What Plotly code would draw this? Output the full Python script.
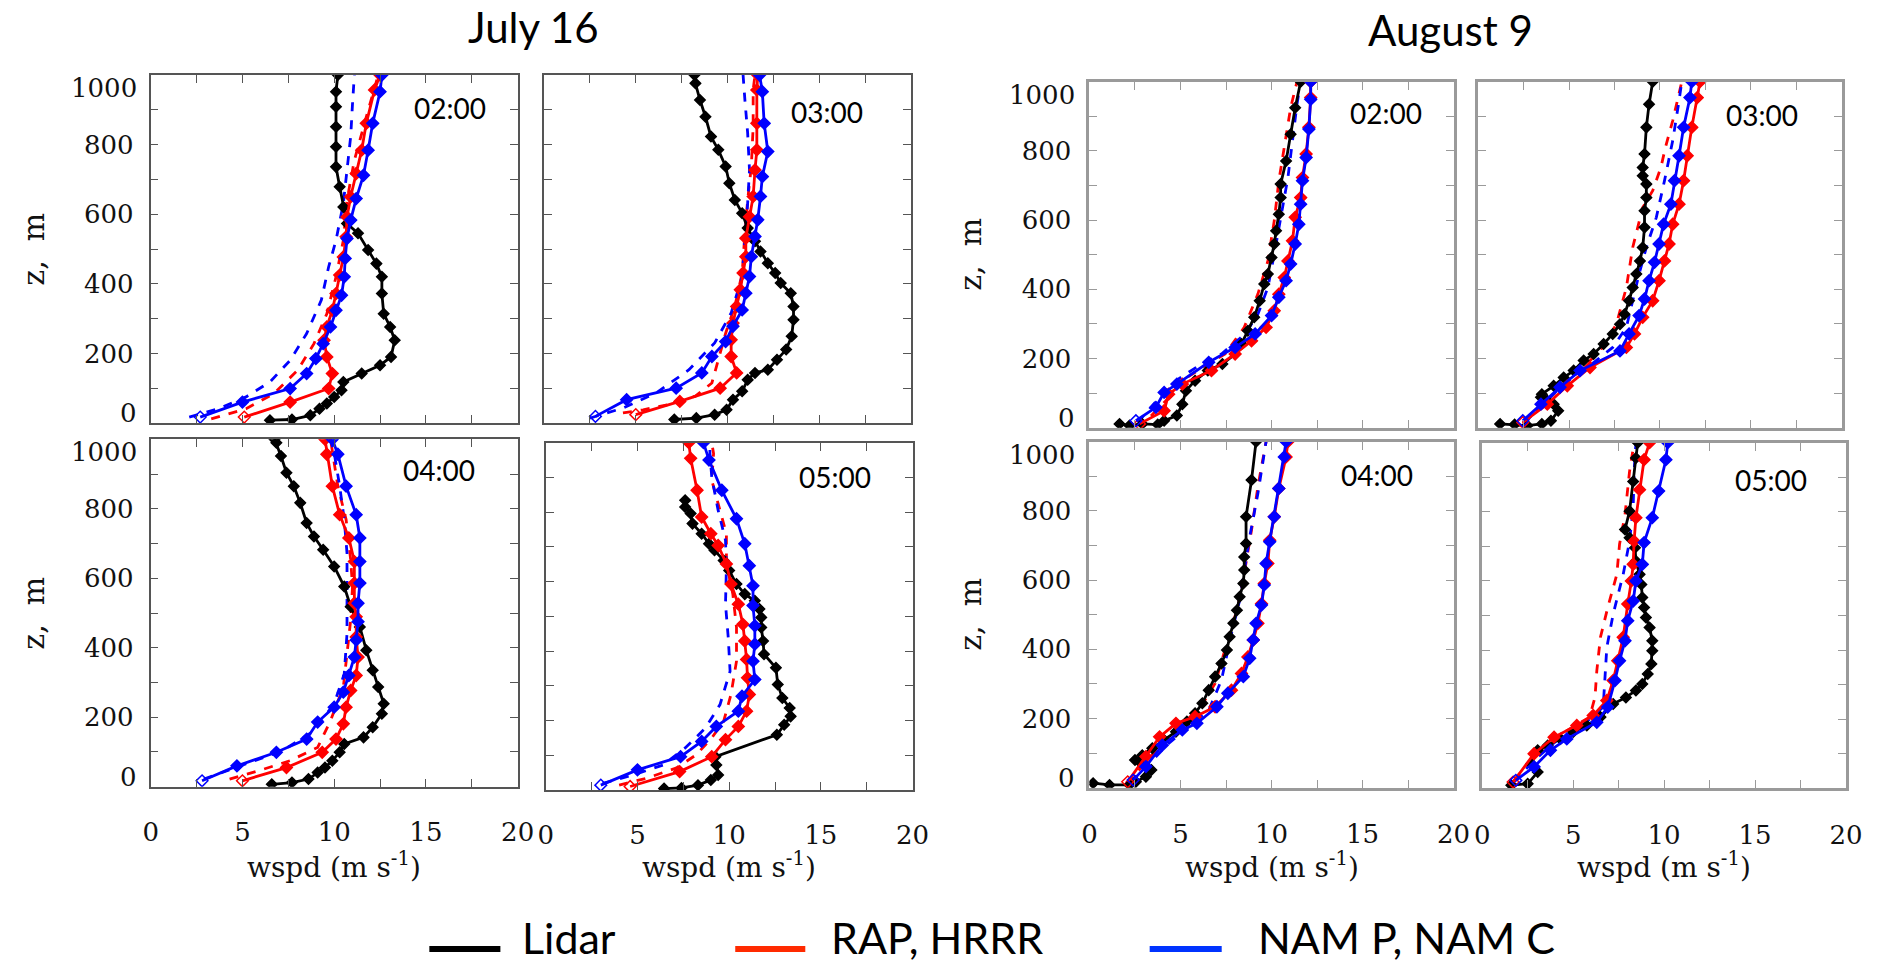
import plotly.graph_objects as go

# ---------------- data: (wind speed m/s, height m) ----------------
# July 16, 02:00
jul_0200_lidar = [(6.5,8),(7.7,10),(8.7,22),(9.2,41),(9.6,56),(10.0,75),(10.4,94),(10.5,118),(11.5,142),(12.5,166),(13.1,190),(13.3,238),(13.05,276),(12.7,314),(12.6,372),(12.6,420),(12.3,458),(11.85,497),(11.3,545),(10.7,573),(10.5,621),(10.3,679),(10.1,736),(10.1,794),(10.1,851),(10.1,909),(10.1,952),(10.2,1000)]
jul_0200_rap = [(5.1,17),(7.6,60),(9.7,99),(9.9,142),(9.6,190),(9.45,238),(9.6,276),(9.9,324),(10.1,372),(10.3,425),(10.5,477),(10.65,535),(10.7,592),(10.9,650),(11.2,717),(11.5,784),(11.75,861),(12.2,957),(12.5,1000)]
jul_0200_hrrr = [(3.3,12),(5.2,41),(6.7,84),(8.0,151),(8.9,228),(9.6,314),(10.1,420),(10.5,525),(10.7,640),(11.1,755),(11.7,870),(12.2,966),(12.4,1000)]
jul_0200_namp = [(2.7,17),(5.0,60),(7.6,99),(8.5,142),(9.0,185),(9.4,228),(9.8,276),(10.1,324),(10.4,367),(10.55,420),(10.6,473),(10.7,530),(10.9,583),(11.2,645),(11.6,712),(11.85,784),(12.1,861),(12.5,952),(12.6,1000)]
jul_0200_namc = [(2.1,17),(3.7,41),(5.2,75),(6.5,118),(7.6,180),(8.5,257),(9.3,353),(9.7,449),(10.1,525),(10.5,631),(10.7,727),(10.9,823),(11.0,918),(11.1,1000)]

# July 16, 03:00
jul_0300_lidar = [(7.1,10),(8.3,14),(9.3,24),(9.95,38),(10.3,67),(10.8,91),(11.1,124),(11.5,144),(12.2,153),(12.7,182),(13.2,211),(13.5,249),(13.6,297),(13.6,335),(13.45,373),(12.9,402),(12.6,431),(12.2,459),(11.8,493),(11.5,522),(11.1,560),(10.8,603),(10.4,641),(10.1,689),(9.9,737),(9.5,785),(9.1,823),(8.8,880),(8.5,928),(8.25,976),(8.2,1000)]
jul_0300_rap = [(5.0,24),(7.4,62),(9.6,100),(10.5,144),(10.2,191),(10.2,239),(10.3,287),(10.5,335),(10.7,383),(10.85,431),(11.0,478),(11.0,531),(11.2,593),(11.4,651),(11.5,727),(11.6,785),(11.6,861),(11.6,957),(11.65,1000)]
jul_0300_hrrr = [(4.3,29),(5.4,38),(6.8,53),(8.25,77),(9.15,115),(9.5,182),(9.9,258),(10.4,335),(10.8,431),(10.95,545),(11.1,641),(11.3,737),(11.4,852),(11.4,957),(11.5,1000)]
jul_0300_namp = [(2.8,19),(4.5,67),(7.2,100),(8.6,144),(9.15,191),(9.9,234),(10.3,278),(10.8,325),(11.0,373),(11.2,421),(11.3,478),(11.5,536),(11.65,584),(11.8,651),(11.9,708),(12.2,780),(12.0,861),(11.9,952),(11.75,1000)]
jul_0300_namc = [(2.5,14),(4.3,43),(6.1,86),(7.9,153),(9.3,230),(10.2,316),(10.8,421),(10.95,517),(11.1,632),(11.2,727),(11.1,833),(10.95,928),(10.85,1000)]

# July 16, 04:00
jul_0400_lidar = [(6.6,7),(7.7,12),(8.6,22),(9.1,41),(9.5,55),(9.9,75),(10.3,99),(10.55,123),(11.6,142),(12.1,171),(12.6,210),(12.7,239),(12.4,287),(12.1,335),(11.75,393),(11.4,460),(10.9,518),(10.55,576),(10.0,634),(9.4,682),(8.9,720),(8.5,759),(8.15,817),(7.8,865),(7.4,904),(7.1,952),(6.85,990),(6.75,1000)]
jul_0400_rap = [(5.0,17),(7.4,55),(9.35,99),(10.1,137),(10.5,181),(10.65,229),(10.9,277),(11.2,320),(11.3,373),(11.2,431),(11.2,489),(11.1,528),(11.1,586),(11.1,648),(10.8,716),(10.3,783),(9.9,865),(9.6,957),(9.5,1000)]
jul_0400_hrrr = [(4.3,22),(5.9,46),(7.6,75),(9.1,113),(9.8,190),(10.5,287),(10.7,383),(10.9,480),(11.0,576),(10.9,653),(10.65,769),(10.2,865),(9.8,1000)]
jul_0400_namp = [(2.8,17),(4.7,60),(6.85,99),(8.5,137),(9.1,186),(10.0,229),(10.5,272),(10.8,320),(11.1,373),(11.2,422),(11.3,475),(11.3,528),(11.4,586),(11.4,648),(11.4,716),(11.2,783),(10.65,865),(10.2,957),(9.9,1000)]
jul_0400_namc = [(2.9,22),(5.2,65),(7.2,104),(8.9,161),(10.0,239),(10.55,325),(10.7,441),(10.7,557),(10.7,672),(10.55,769),(10.3,865),(10.0,961),(9.8,1000)]

# July 16, 05:00
jul_0500_lidar = [(6.45,4),(7.4,6),(8.3,14),(9.0,29),(9.4,43),(9.3,72),(9.25,96),(12.6,159),(13.0,188),(13.35,212),(13.3,236),(12.9,265),(12.65,304),(12.55,352),(11.9,391),(11.85,429),(11.75,468),(11.75,497),(11.65,521),(11.4,545),(10.85,564),(10.4,593),(10.0,632),(9.7,661),(9.2,690),(8.9,709),(8.5,738),(8.0,767),(7.9,796),(7.6,815),(7.6,834)]
jul_0500_rap = [(4.6,10),(7.3,53),(9.05,96),(9.8,145),(10.5,183),(10.95,227),(11.1,275),(11.0,323),(10.95,376),(10.85,429),(10.75,477),(10.5,535),(10.1,593),(9.85,651),(9.4,704),(9.0,738),(8.5,786),(8.25,863),(7.9,955),(7.8,1000)]
jul_0500_hrrr = [(4.0,14),(5.5,34),(7.1,63),(8.2,101),(9.05,150),(9.7,198),(10.1,275),(10.4,371),(10.4,468),(10.2,564),(9.85,661),(9.85,738),(9.5,805),(9.05,892),(9.15,969),(9.05,1000)]
jul_0500_namp = [(3.0,14),(5.0,58),(7.35,96),(8.5,140),(9.3,183),(10.5,227),(10.7,270),(11.4,318),(11.3,371),(11.4,420),(11.4,473),(11.3,531),(11.3,588),(11.1,646),(10.85,709),(10.4,781),(9.6,863),(8.9,950),(8.6,1000)]
jul_0500_namc = [(3.1,19),(4.75,43),(6.4,72),(7.6,121),(8.7,178),(9.5,246),(10.05,342),(9.95,439),(9.8,535),(9.85,641),(9.8,719),(9.4,805),(9.05,901),(8.95,969),(8.95,1000)]

# August 9, 02:00
aug_0200_lidar = [(1.65,11),(2.2,6),(2.9,11),(3.75,9),(4.1,20),(4.8,35),(5.1,68),(5.3,107),(5.8,136),(6.5,165),(7.3,184),(8.0,213),(8.35,242),(8.7,280),(9.05,319),(9.35,367),(9.6,415),(9.8,444),(10.0,492),(10.15,531),(10.25,569),(10.4,617),(10.5,665),(10.5,704),(10.8,771),(11.05,848),(11.3,925),(11.6,1000)]
aug_0200_rap = [(2.75,11),(4.1,49),(4.35,97),(5.1,126),(6.7,165),(8.0,213),(8.9,251),(9.7,290),(10.15,338),(10.4,386),(10.7,434),(10.9,482),(11.15,540),(11.3,608),(11.6,665),(11.7,723),(11.9,791),(12.05,868),(12.15,954),(12.15,1000)]
aug_0200_hrrr = [(2.55,6),(3.3,30),(4.2,78),(5.1,136),(6.2,174),(7.45,213),(8.5,290),(9.25,386),(9.8,482),(10.15,598),(10.4,713),(10.7,810),(11.05,925),(11.4,1000)]
aug_0200_namp = [(2.55,20),(3.65,59),(4.1,102),(4.8,126),(6.55,189),(8.0,232),(9.1,271),(10.0,324),(10.4,377),(10.8,425),(11.05,473),(11.3,531),(11.5,588),(11.6,646),(11.7,714),(11.9,781),(12.05,863),(12.15,949),(12.15,1000)]
aug_0200_namc = [(2.65,15),(3.85,88),(4.75,136),(6.0,179),(7.25,213),(8.55,271),(9.25,328),(9.8,405),(10.15,502),(10.5,608),(10.9,723),(11.15,829),(11.4,935),(11.6,1000)]

# August 9, 03:00
aug_0300_lidar = [(1.2,11),(2.0,9),(2.7,6),(3.5,11),(4.0,20),(4.4,49),(4.15,68),(3.8,78),(3.45,88),(3.5,97),(4.15,121),(4.7,145),(5.25,165),(5.8,194),(6.35,213),(6.9,242),(7.4,271),(7.8,299),(8.05,328),(8.3,367),(8.5,405),(8.7,444),(8.9,482),(9.05,521),(9.15,579),(9.15,627),(9.25,665),(9.25,704),(9.05,728),(9.05,752),(9.15,791),(9.25,868),(9.4,935),(9.6,1000)]
aug_0300_rap = [(2.45,15),(3.8,68),(4.9,121),(6.15,174),(8.15,232),(8.6,271),(9.05,319),(9.6,367),(9.95,425),(10.25,482),(10.5,531),(10.7,588),(11.05,646),(11.3,714),(11.5,786),(11.75,868),(12.05,954),(12.2,1000)]
aug_0300_hrrr = [(2.45,11),(3.25,49),(4.35,107),(5.6,165),(6.7,222),(7.6,299),(8.15,405),(8.5,521),(9.05,636),(9.6,685),(10.05,752),(10.3,810),(10.7,887),(11.05,964),(11.2,1000)]
aug_0300_namp = [(2.45,20),(3.45,68),(4.5,117),(5.6,165),(7.8,222),(8.3,271),(8.85,324),(9.15,372),(9.4,425),(9.7,478),(9.95,531),(10.2,588),(10.6,646),(10.8,714),(11.05,786),(11.3,868),(11.65,954),(11.75,1000)]
aug_0300_namc = [(2.55,15),(3.6,68),(4.7,126),(6.0,174),(7.4,232),(8.15,290),(8.5,367),(8.85,444),(9.25,521),(9.8,608),(10.25,714),(10.7,829),(11.05,945),(11.2,1000)]

# August 9, 04:00
aug_0400_lidar = [(0.2,13),(1.1,8),(2.2,8),(2.55,17),(3.1,32),(3.4,51),(3.0,70),(2.75,75),(2.5,80),(2.9,94),(3.45,114),(4.1,138),(4.75,162),(5.35,191),(5.8,215),(6.2,244),(6.55,282),(6.9,321),(7.25,359),(7.55,398),(7.7,436),(7.9,475),(8.1,513),(8.25,552),(8.45,590),(8.5,629),(8.5,667),(8.6,706),(8.6,783),(8.9,889),(9.15,1000)]
aug_0400_rap = [(2.1,17),(3.1,90),(3.85,147),(4.75,186),(5.8,205),(6.9,234),(7.8,282),(8.35,330),(8.7,378),(9.0,427),(9.25,475),(9.45,532),(9.6,590),(9.8,648),(9.9,715),(10.15,783),(10.4,865),(10.8,956),(10.9,1000)]
aug_0400_hrrr = [(2.0,13),(2.9,61),(4.0,128),(5.1,176),(6.0,224),(6.9,301),(7.6,427),(8.15,523),(8.5,619),(8.9,744),(9.25,870),(9.6,975),(9.7,1000)]
aug_0400_namp = [(2.4,22),(3.1,61),(4.0,123),(5.1,167),(5.9,186),(7.0,234),(7.6,273),(8.45,321),(8.8,374),(9.0,427),(9.15,475),(9.45,528),(9.6,586),(9.7,648),(9.9,711),(10.15,783),(10.4,865),(10.7,956),(10.8,1000)]
aug_0400_namc = [(2.2,17),(3.3,70),(4.35,128),(5.45,176),(6.55,224),(7.25,311),(7.8,446),(8.25,542),(8.5,629),(8.8,725),(9.25,850),(9.6,966),(9.7,1000)]

# August 9, 05:00
aug_0500_lidar = [(1.6,9),(2.5,13),(3.05,47),(2.7,71),(3.05,110),(3.6,124),(4.3,143),(5.0,163),(5.75,182),(6.5,206),(7.2,244),(7.9,263),(8.45,283),(8.8,302),(9.1,331),(9.3,360),(9.35,398),(9.35,427),(9.2,465),(9.0,494),(8.9,523),(8.8,552),(8.75,590),(8.65,619),(8.45,658),(8.4,696),(8.1,725),(7.85,749),(8.1,802),(8.3,888),(8.45,956),(8.55,1000)]
aug_0500_rap = [(1.7,18),(2.85,100),(3.95,148),(5.2,182),(6.1,211),(6.85,254),(7.2,312),(7.45,369),(7.75,437),(8.0,533),(8.2,600),(8.3,648),(8.35,715),(8.45,783),(8.65,864),(8.9,951),(9.2,1000)]
aug_0500_hrrr = [(1.75,23),(2.65,81),(3.6,129),(4.65,167),(5.9,206),(6.2,263),(6.3,340),(6.5,437),(6.9,523),(7.4,619),(7.55,706),(7.85,792),(8.1,917),(8.35,1000)]
aug_0500_namp = [(1.85,23),(2.85,62),(3.75,110),(4.65,143),(6.3,191),(6.9,235),(7.3,312),(7.55,369),(7.85,427),(8.0,485),(8.3,542),(8.45,600),(8.8,648),(8.9,711),(9.35,783),(9.7,860),(10.1,951),(10.2,1000)]
aug_0500_namc = [(1.75,18),(2.85,81),(4.1,138),(5.4,177),(6.65,235),(6.75,312),(6.85,408),(7.2,504),(7.75,619),(8.1,715),(8.3,812),(8.35,917),(8.45,1000)]

time_labels = ["02:00", "03:00", "04:00", "05:00", "02:00", "03:00", "04:00", "05:00"]
group_titles = ["July 16", "August 9"]
legend_labels = ["Lidar", "RAP, HRRR", "NAM P, NAM C"]
x_tick_vals = [0, 2.5, 5, 7.5, 10, 12.5, 15, 17.5, 20]
x_tick_text = ["0", "", "5", "", "10", "", "15", "", "20"]
y_tick_vals = [0, 100, 200, 300, 400, 500, 600, 700, 800, 900, 1000]
y_tick_text = ["", "", "200", "", "400", "", "600", "", "800", "", ""]
y_end_labels = [(0, "0"), (1000, "1000")]

panel_data = [
    (jul_0200_lidar, jul_0200_rap, jul_0200_hrrr, jul_0200_namp, jul_0200_namc),
    (jul_0300_lidar, jul_0300_rap, jul_0300_hrrr, jul_0300_namp, jul_0300_namc),
    (jul_0400_lidar, jul_0400_rap, jul_0400_hrrr, jul_0400_namp, jul_0400_namc),
    (jul_0500_lidar, jul_0500_rap, jul_0500_hrrr, jul_0500_namp, jul_0500_namc),
    (aug_0200_lidar, aug_0200_rap, aug_0200_hrrr, aug_0200_namp, aug_0200_namc),
    (aug_0300_lidar, aug_0300_rap, aug_0300_hrrr, aug_0300_namp, aug_0300_namc),
    (aug_0400_lidar, aug_0400_rap, aug_0400_hrrr, aug_0400_namp, aug_0400_namc),
    (aug_0500_lidar, aug_0500_rap, aug_0500_hrrr, aug_0500_namp, aug_0500_namc),
]

# ---------------- layout geometry (pixels) ----------------
W, H = 1887, 966
# x0, x1, y0(top), y1(bottom), group(0=July,1=Aug), bottom_row, left_col
boxes = [
    (144.6, 516.5, 75.0, 423.0, 0, False, True),
    (543.3, 915.0, 75.0, 423.0, 0, False, False),
    (144.6, 516.5, 439.3, 786.7, 0, True, True),
    (545.0, 916.7, 442.7, 790.0, 0, True, False),
    (1096.0, 1465.0, 81.7, 427.7, 1, False, True),
    (1490.0, 1858.3, 81.7, 427.7, 1, False, False),
    (1096.0, 1465.0, 441.7, 787.7, 1, True, True),
    (1494.0, 1862.7, 442.7, 788.3, 1, True, False),
]
time_pos = [(448, 108), (830, 112), (437, 470), (838, 477), (1397, 113), (1778, 115), (1387, 475), (1787, 480)]

def px(x):
    return x / W

def py(y):
    return 1 - y / H

RED = "#ff0000"
BLUE = "#0000ff"
BLACK = "#000000"
SERIF = "DejaVu Serif"
SANS = "Lato"
TXT = "#111111"

fig = go.Figure()
layout = dict(
    width=W, height=H, margin=dict(l=0, r=0, t=0, b=0),
    paper_bgcolor="white", plot_bgcolor="white", showlegend=False,
)
annotations = []
shapes = []

for i, (box, series) in enumerate(zip(boxes, panel_data)):
    n = i + 1
    x0, x1, y0, y1, grp, bottom, left = box
    xa = "x" if n == 1 else f"x{n}"
    ya = "y" if n == 1 else f"y{n}"
    lidar, rap, hrrr, namp, namc = series

    def add(pts, color, dash, marker_size, open_first):
        xs = [p[0] for p in pts]
        zs = [p[1] for p in pts]
        if marker_size:
            syms = ["diamond"] * len(pts)
            if open_first:
                syms[0] = "diamond-open"
            mode = "lines+markers"
            marker = dict(symbol=syms, size=marker_size, color=color,
                          line=dict(width=1.5, color=color))
        else:
            mode = "lines"
            marker = None
        fig.add_trace(go.Scatter(x=xs, y=zs, mode=mode, xaxis=xa, yaxis=ya,
                                 line=dict(color=color, width=2.8, dash=dash),
                                 marker=marker, hoverinfo="skip"))

    add(hrrr, RED, "dash", 0, False)
    add(namc, BLUE, "dash", 0, False)
    add(lidar, BLACK, "solid", 8, False)
    add(rap, RED, "solid", 9, True)
    add(namp, BLUE, "solid", 9, True)

    lc = "#555555" if grp == 0 else "#9a9a9a"
    lw = 1.6 if grp == 0 else 3
    common = dict(showgrid=False, zeroline=False, showline=True, linecolor=lc,
                  linewidth=lw, mirror="allticks", ticks="inside", ticklen=8,
                  tickwidth=1.3, tickcolor=lc,
                  tickfont=dict(family=SERIF, size=26, color=TXT))
    layout["xaxis" if n == 1 else f"xaxis{n}"] = dict(
        common, domain=[px(x0), px(x1)], range=[0, 20], anchor=ya,
        tickmode="array", tickvals=x_tick_vals, ticktext=x_tick_text,
        showticklabels=bottom, ticklabelstandoff=21)
    layout["yaxis" if n == 1 else f"yaxis{n}"] = dict(
        common, domain=[py(y1), py(y0)], range=[0, 1000], anchor=xa,
        tickmode="array", tickvals=y_tick_vals, ticktext=y_tick_text,
        showticklabels=left, ticklabelstandoff=10)

    if left:
        # end labels nudged inward, as in the original figure
        for val, lab in y_end_labels:
            annotations.append(dict(x=0, y=val, xref=f"{xa} domain", yref=ya, text=lab,
                                    showarrow=False, xanchor="right", yanchor="middle",
                                    xshift=-12, yshift=(10 if val == 0 else -13),
                                    font=dict(family=SERIF, size=26, color=TXT)))
        annotations.append(dict(x=px(25 if grp == 0 else 976), y=py((y0 + y1) / 2),
                                xref="paper", yref="paper", text="z,  m",
                                textangle=-90, showarrow=False,
                                font=dict(family=SERIF, size=30, color=TXT),
                                xanchor="center", yanchor="middle"))

    tx, ty = time_pos[i]
    annotations.append(dict(x=px(tx), y=py(ty), xref="paper", yref="paper",
                            text=time_labels[i], showarrow=False,
                            font=dict(family=SANS, size=28, color="black"),
                            xanchor="center", yanchor="middle"))
    if bottom:
        annotations.append(dict(x=px((x0 + x1) / 2), y=py(865), xref="paper", yref="paper",
                                text="wspd (m s<sup>-1</sup>)", showarrow=False,
                                font=dict(family=SERIF, size=28, color=TXT),
                                xanchor="center", yanchor="middle"))

# group titles
for title, cx, cy in zip(group_titles, [533, 1462], [27, 30]):
    annotations.append(dict(x=px(cx), y=py(cy), xref="paper", yref="paper", text=title,
                            showarrow=False, font=dict(family=SANS, size=42, color="black"),
                            xanchor="center", yanchor="middle"))

# legend (drawn manually)
leg_colors = ["#000000", "#ff2a00", "#0033ff"]
leg_lines = [(427, 499), (737, 808), (1157, 1230)]
leg_text_x = [519, 832, 1265]
for lab, col, (lx0, lx1), tx in zip(legend_labels, leg_colors, leg_lines, leg_text_x):
    shapes.append(dict(type="line", xref="paper", yref="paper", x0=px(lx0), x1=px(lx1),
                       y0=py(949), y1=py(949), line=dict(color=col, width=6)))
    annotations.append(dict(x=px(tx), y=py(937), xref="paper", yref="paper", text=lab,
                            showarrow=False, font=dict(family=SANS, size=43, color="black"),
                            xanchor="left", yanchor="middle"))

layout["annotations"] = annotations
layout["shapes"] = shapes
fig.update_layout(**layout)
fig.write_html("out.html")
